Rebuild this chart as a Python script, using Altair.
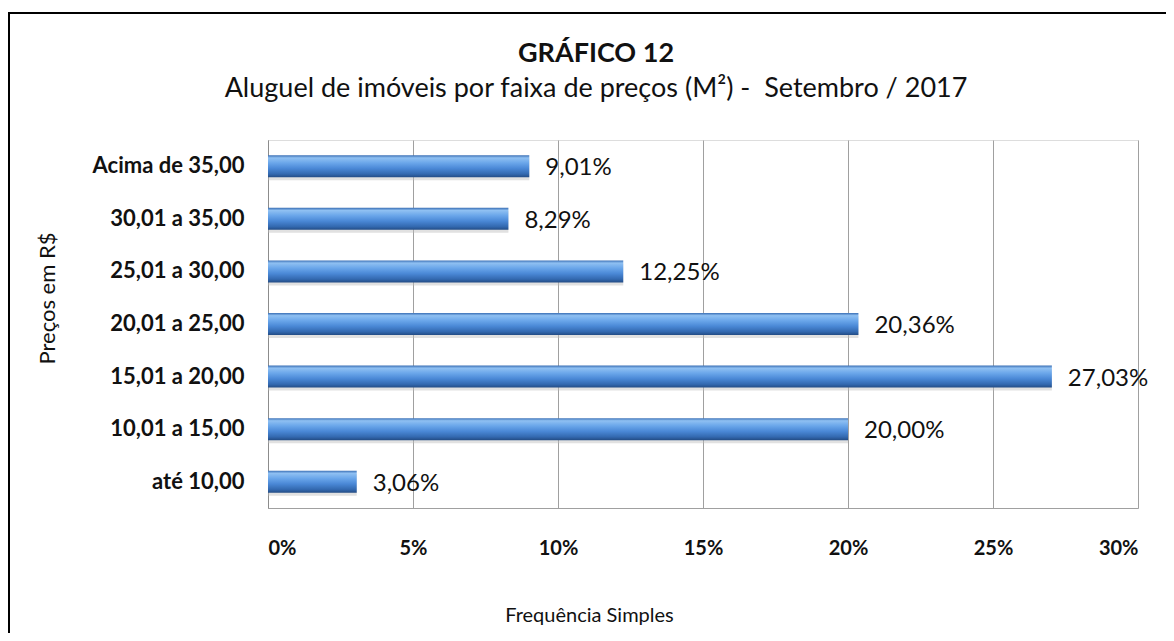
import altair as alt
import pandas as pd

categories = ["Acima de 35,00", "30,01 a 35,00", "25,01 a 30,00", "20,01 a 25,00",
              "15,01 a 20,00", "10,01 a 15,00", "até 10,00"]
values = [9.01, 8.29, 12.25, 20.36, 27.03, 20.00, 3.06]
x_ticks = [0, 5, 10, 15, 20, 25, 30]
title_text = "GRÁFICO 12"
subtitle_text = "Aluguel de imóveis por faixa de preços (M²) - \u00a0Setembro / 2017"

df = pd.DataFrame({"cat": categories, "val": values})
df["lab"] = df["val"].map(lambda v: f"{v:.2f}".replace(".", ",") + "%")

FONT = "Lato"

grad = alt.LinearGradient(
    gradient="linear",
    stops=[
        alt.GradientStop(color="#3a6fb5", offset=0.0),
        alt.GradientStop(color="#8fc0f2", offset=0.12),
        alt.GradientStop(color="#6aa6ea", offset=0.35),
        alt.GradientStop(color="#4a88d6", offset=0.6),
        alt.GradientStop(color="#3369b0", offset=0.85),
        alt.GradientStop(color="#234c85", offset=1.0),
    ],
    x1=0, x2=0, y1=0, y2=1,
)

y_enc = alt.Y(
    "cat:N", sort=categories,
    axis=alt.Axis(
        title="Preços em R$", domainColor="#8c8c8c", ticks=False,
        labelFont=FONT, labelFontWeight="bold", labelFontSize=22, labelColor="#111111",
        labelPadding=24,
        titleFont=FONT, titleFontWeight="normal", titleFontSize=22, titleColor="#111111",
        titleX=-221, titleY=158, titleAlign="center", titleBaseline="middle",
    ),
)
x_enc = alt.X(
    "val:Q", scale=alt.Scale(domain=[0, 30], nice=False),
    axis=alt.Axis(
        values=x_ticks, labelExpr="datum.value + '%'",
        grid=True, gridColor="#a0a0a0", domainColor="#a0a0a0", ticks=False,
        labelFont=FONT, labelFontWeight="bold", labelFontSize=20, labelColor="#111111",
        labelPadding=30,
        title="Frequência Simples", titleFont=FONT, titleFontWeight="normal",
        titleFontSize=20, titleColor="#111111",
        titleX=321, titleY=107, titleAlign="center", titleBaseline="middle",
    ),
)

shadow = alt.Chart(df).mark_bar(size=22, color="#bdbdbd", opacity=0.45, yOffset=3, x2Offset=3).encode(
    x=alt.X("val:Q"), y=alt.Y("cat:N", sort=categories)
)
bars = alt.Chart(df).mark_bar(size=22, color=grad).encode(x=x_enc, y=y_enc)
labels = alt.Chart(df).mark_text(
    align="left", baseline="middle", dx=16, dy=2, font=FONT, fontSize=24, color="#111111"
).encode(x=alt.X("val:Q"), y=alt.Y("cat:N", sort=categories), text="lab:N")

one = pd.DataFrame({"t": [title_text], "s": [subtitle_text]})
title_mark = alt.Chart(one).mark_text(
    align="center", baseline="alphabetic", font=FONT, fontSize=27, fontWeight="bold", color="#111111"
).encode(x=alt.value(328), y=alt.value(-78), text="t:N")
subtitle_mark = alt.Chart(one).mark_text(
    align="center", baseline="alphabetic", font=FONT, fontSize=27, color="#111111"
).encode(x=alt.value(328), y=alt.value(-43), text="s:N")

left_border = alt.Chart(one).mark_rule(color="black", strokeWidth=2).encode(
    x=alt.value(-259), y=alt.value(-127), y2=alt.value(493)
)
top_border = alt.Chart(one).mark_rule(color="black", strokeWidth=2).encode(
    x=alt.value(-260), x2=alt.value(898), y=alt.value(-127)
)

chart = alt.layer(shadow, bars, labels, title_mark, subtitle_mark, left_border, top_border).properties(
    width=870, height=368,
    autosize=alt.AutoSizeParams(type="none"),
    padding={"left": 260, "top": 132, "right": 28, "bottom": 125},
).configure_view(stroke=None).configure(background="white")

chart.save("out.html", embed_options={"renderer": "svg", "actions": False})
